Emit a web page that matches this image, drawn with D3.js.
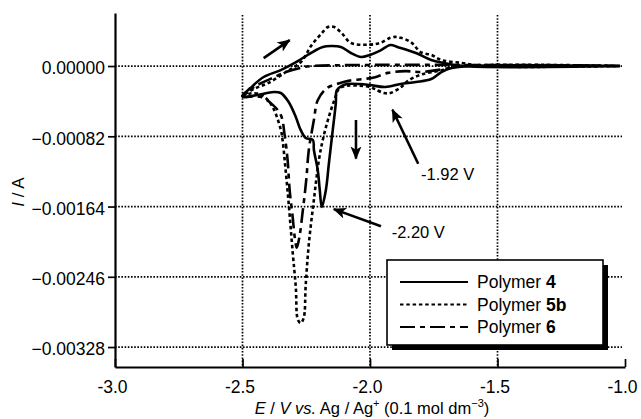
<!DOCTYPE html>
<html>
<head>
<meta charset="utf-8">
<script src="https://cdnjs.cloudflare.com/ajax/libs/d3/7.8.5/d3.min.js"></script>
<style>
  body { margin: 0; background: #fff; }
  svg text { font-family: "Liberation Sans", Arial, Helvetica, sans-serif; fill: #000; }
</style>
</head>
<body>
<script>
'use strict';
// tick values
const xTicks = [-3.0, -2.5, -2.0, -1.5, -1.0];
const yTicks = [0, -0.00082, -0.00164, -0.00246, -0.00328];
const xGrid = [-2.5, -2.0, -1.5];

// polymer 4 : sweep from -1.0 V down to -2.5 V and back
const p4E = [-1.02, -1.60, -1.68, -1.72, -1.76, -1.82, -1.88, -1.94, -2.00, -2.04, -2.09, -2.11,
  -2.13, -2.134, -2.146, -2.161, -2.173, -2.189, -2.197, -2.205, -2.220, -2.224, -2.252, -2.272,
  -2.291, -2.319, -2.350, -2.378, -2.441, -2.496, -2.500,
  -2.469, -2.417, -2.350, -2.283, -2.232, -2.185, -2.154, -2.114, -2.075, -2.035, -2.000, -1.960,
  -1.920, -1.890, -1.820, -1.760, -1.710, -1.640, -1.02];
const p4I = [0, 0, -0.000023, -0.00007, -0.000152, -0.000187, -0.00021, -0.000245, -0.000222, -0.00021, -0.00021, -0.000233,
  -0.00028, -0.000432, -0.000746, -0.001131, -0.001446, -0.001645, -0.001446, -0.001213, -0.00098, -0.000863, -0.00084, -0.000746,
  -0.000595, -0.00042, -0.000315, -0.000303, -0.000338, -0.000362, -0.00035,
  -0.000257, -0.000128, -0.000047, 0.000058, 0.000152, 0.000222, 0.000233, 0.000222, 0.000152, 0.000105, 0.00013, 0.00018,
  0.000245, 0.00022, 0.000152, 0.00007, 0.000035, 0, 0];

// polymer 5b
const p5E = [-1.02, -1.64, -1.72, -1.80, -1.85, -1.88, -1.92, -1.945, -1.98, -2.00, -2.04, -2.09,
  -2.12, -2.14, -2.165, -2.185, -2.20, -2.22, -2.24, -2.252, -2.26, -2.272, -2.283, -2.291,
  -2.303, -2.319, -2.331, -2.343, -2.35, -2.378, -2.40, -2.43, -2.47, -2.50,
  -2.45, -2.40, -2.33, -2.27, -2.23, -2.19, -2.165, -2.14, -2.11, -2.075, -2.00, -1.96,
  -1.92, -1.90, -1.88, -1.84, -1.80, -1.76, -1.72, -1.64, -1.56, -1.02];
const p5I = [0, 0, -0.00005, -0.0001, -0.00017, -0.00025, -0.000315, -0.000315, -0.00027, -0.000245, -0.00023, -0.00023,
  -0.00026, -0.0004, -0.00063, -0.00086, -0.00109, -0.00156, -0.00208, -0.00255, -0.00294, -0.0030, -0.00296, -0.00258,
  -0.00218, -0.0016, -0.00121, -0.00086, -0.00074, -0.0005, -0.0004, -0.00033, -0.00032, -0.00035,
  -0.00026, -0.0002, -0.00007, 0.00005, 0.00024, 0.00038, 0.000455, 0.000455, 0.00038, 0.00027, 0.00025, 0.00027,
  0.00033, 0.00034, 0.00033, 0.00028, 0.00016, 0.00013, 0.00007, 0.000035, 0, 0];

// polymer 6
const p6E = [-1.02, -1.64, -1.72, -1.80, -1.86, -1.93, -1.98, -2.02, -2.08, -2.12, -2.17, -2.205,
  -2.22, -2.24, -2.25, -2.264, -2.276, -2.287, -2.295, -2.303, -2.315, -2.323, -2.335, -2.35,
  -2.39, -2.43, -2.50,
  -2.44, -2.39, -2.33, -2.27, -2.23, -1.02];
const p6I = [0, 0, -0.00004, -0.00007, -0.00006, -0.00008, -0.00013, -0.00015, -0.00017, -0.0002, -0.00026, -0.0004,
  -0.00063, -0.00098, -0.00133, -0.0017, -0.00198, -0.00212, -0.002, -0.00177, -0.00145, -0.0011, -0.0008, -0.00057,
  -0.00043, -0.00036, -0.00035,
  -0.00022, -0.00015, -0.00007, -0.00002, 0, 0];

const seriesNames = ["4", "5b", "6"];

(function() {
  let svgContainer = "";
  let xScale, yScale;
  const dashes = ["none", "3.5,2.8", "15,5,5,5"];

  window.onload = function() {
    svgContainer = d3.select('body')
      .append('svg')
      .attr('width', 641)
      .attr('height', 419);

    xScale = d3.scaleLinear().domain([-3, -1]).range([115, 625]);
    yScale = d3.scaleLinear().domain([-0.003513, 0.000619]).range([367, 13]);

    drawGrid();
    plotCurves();
    drawAxes();
    drawNotes();
    drawLegend();
    makeLabels();
  };

  // dotted grid lines
  function drawGrid() {
    svgContainer.selectAll('.gx')
      .data(xGrid)
      .enter()
      .append('line')
        .attr('x1', d => xScale(d)).attr('x2', d => xScale(d))
        .attr('y1', yScale.range()[1] + 2).attr('y2', yScale.range()[0])
        .attr('stroke', '#000')
        .attr('stroke-width', 1.7)
        .attr('stroke-dasharray', '1.6,1.6');

    svgContainer.selectAll('.gy')
      .data(yTicks)
      .enter()
      .append('line')
        .attr('x1', xScale.range()[0]).attr('x2', xScale.range()[1] - 3)
        .attr('y1', d => yScale(d)).attr('y2', d => yScale(d))
        .attr('stroke', '#000')
        .attr('stroke-width', 1.7)
        .attr('stroke-dasharray', '1.6,1.6');
  }

  function plotCurves() {
    let all = [[p4E, p4I], [p5E, p5I], [p6E, p6I]];
    let line = d3.line()
      .x(d => xScale(d[0]))
      .y(d => yScale(d[1]))
      .curve(d3.curveCatmullRom.alpha(0.5));

    all.forEach((s, i) => {
      let pts = s[0].map((e, k) => [e, s[1][k]]);
      svgContainer.append('path')
        .datum(pts)
        .attr('d', line)
        .attr('fill', 'none')
        .attr('stroke', '#000')
        .attr('stroke-width', 2.6)
        .attr('stroke-linejoin', 'round')
        .attr('stroke-dasharray', dashes[i]);
    });
  }

  function drawAxes() {
    let xAxis = d3.axisBottom(xScale)
      .tickValues(xTicks)
      .tickSize(-8)
      .tickSizeOuter(0)
      .tickPadding(14)
      .tickFormat(d => d.toFixed(1));
    let gx = svgContainer.append('g')
      .attr('transform', 'translate(0,' + yScale.range()[0] + ')')
      .call(xAxis);
    gx.selectAll('text')
      .attr('font-size', '17.5px')
      .attr('font-family', '"Liberation Sans", Arial, sans-serif')
      .attr('dx', -3);

    let yAxis = d3.axisLeft(yScale)
      .tickValues(yTicks)
      .tickSize(7)
      .tickSizeOuter(0)
      .tickPadding(3)
      .tickFormat(d3.format('.5f'));
    let gy = svgContainer.append('g')
      .attr('transform', 'translate(' + xScale.range()[0] + ',0)')
      .call(yAxis);
    gy.selectAll('text')
      .attr('font-size', '17.5px')
      .attr('font-family', '"Liberation Sans", Arial, sans-serif')
      .attr('dy', '0.45em');

    [gx, gy].forEach(g => {
      g.select('.domain').attr('stroke-width', 2.2);
      g.selectAll('.tick line').attr('stroke-width', 1.7);
    });
  }

  // arrows and peak labels
  function drawNotes() {
    let defs = svgContainer.append('defs');
    defs.append('marker')
      .attr('id', 'head')
      .attr('viewBox', '0 0 12 10')
      .attr('refX', 11).attr('refY', 5)
      .attr('markerWidth', 14).attr('markerHeight', 11)
      .attr('markerUnits', 'userSpaceOnUse')
      .attr('orient', 'auto')
      .append('path')
        .attr('d', 'M0,0 L12,5 L0,10 L3,5 Z')
        .attr('fill', '#000');

    let arrows = [
      [-2.417, 0.000093, -2.315, 0.000303],
      [-2.055, -0.00063, -2.055, -0.00108],
      [-1.811, -0.00114, -1.912, -0.00051],
      [-1.957, -0.00187, -2.142, -0.00167]
    ];
    svgContainer.selectAll('.arrow')
      .data(arrows)
      .enter()
      .append('line')
        .attr('x1', d => xScale(d[0])).attr('y1', d => yScale(d[1]))
        .attr('x2', d => xScale(d[2])).attr('y2', d => yScale(d[3]))
        .attr('stroke', '#000')
        .attr('stroke-width', 2.6)
        .attr('marker-end', 'url(#head)');

    let notes = [["-1.92 V", -1.80, -0.00133], ["-2.20 V", -1.915, -0.00201]];
    svgContainer.selectAll('.note')
      .data(notes)
      .enter()
      .append('text')
        .attr('x', d => xScale(d[1]))
        .attr('y', d => yScale(d[2]))
        .style('font-size', '16.5px')
        .text(d => d[0]);
  }

  function drawLegend() {
    let lx = 387, ly = 260, lw = 216, lh = 85;
    svgContainer.append('rect')
      .attr('x', lx + 5).attr('y', ly + 5)
      .attr('width', lw).attr('height', lh)
      .attr('fill', '#000');
    svgContainer.append('rect')
      .attr('x', lx).attr('y', ly)
      .attr('width', lw).attr('height', lh)
      .attr('fill', '#fff')
      .attr('stroke', '#000')
      .attr('stroke-width', 1.6);

    seriesNames.forEach((name, i) => {
      let yy = ly + 22 + i * 22.5;
      svgContainer.append('line')
        .attr('x1', lx + 13).attr('x2', lx + 81)
        .attr('y1', yy).attr('y2', yy)
        .attr('stroke', '#000')
        .attr('stroke-width', 2.2)
        .attr('stroke-dasharray', dashes[i]);
      let t = svgContainer.append('text')
        .attr('x', lx + 90)
        .attr('y', yy + 6)
        .style('font-size', '17.5px');
      t.append('tspan').text('Polymer ');
      t.append('tspan').style('font-weight', 'bold').text(name);
    });
  }

  // axis titles
  function makeLabels() {
    let xt = svgContainer.append('text')
      .attr('x', 372)
      .attr('y', 414)
      .attr('text-anchor', 'middle')
      .style('font-size', '16.5px');
    xt.append('tspan').style('font-style', 'italic').text('E');
    xt.append('tspan').text(' / ');
    xt.append('tspan').style('font-style', 'italic').text('V vs.');
    xt.append('tspan').text(' Ag / Ag');
    xt.append('tspan').attr('dy', -7).style('font-size', '11px').text('+');
    xt.append('tspan').attr('dy', 7).text(' (0.1 mol dm');
    xt.append('tspan').attr('dy', -7).style('font-size', '11px').text('\u22123');
    xt.append('tspan').attr('dy', 7).text(')');

    let yt = svgContainer.append('text')
      .attr('transform', 'translate(24, 192)rotate(-90)')
      .attr('text-anchor', 'middle')
      .style('font-size', '17px');
    yt.append('tspan').style('font-style', 'italic').text('I');
    yt.append('tspan').text(' / A');
  }

})();
</script>
</body>
</html>
